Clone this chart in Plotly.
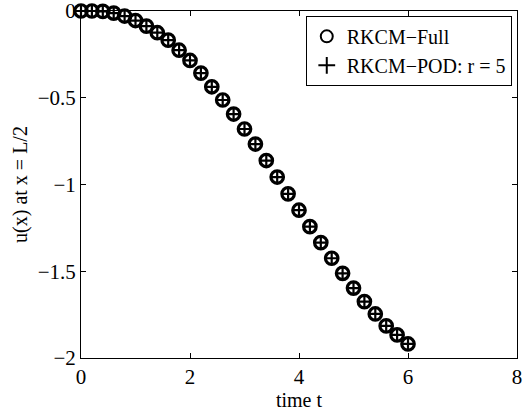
import plotly.graph_objects as go

time_t = [0.0, 0.2, 0.4, 0.6, 0.8, 1.0, 1.2, 1.4, 1.6, 1.8, 2.0, 2.2, 2.4, 2.6, 2.8, 3.0,
          3.2, 3.4, 3.6, 3.8, 4.0, 4.2, 4.4, 4.6, 4.8, 5.0, 5.2, 5.4, 5.6, 5.8, 6.0]
u_full = [0.0, 0.0, -0.002, -0.012, -0.029, -0.055, -0.087, -0.125, -0.168, -0.226, -0.285,
          -0.358, -0.437, -0.513, -0.594, -0.680, -0.767, -0.862, -0.957, -1.054, -1.148,
          -1.243, -1.335, -1.425, -1.512, -1.597, -1.675, -1.746, -1.815, -1.867, -1.919]
u_pod = [0.0, 0.0, -0.002, -0.012, -0.029, -0.055, -0.087, -0.125, -0.168, -0.226, -0.285,
         -0.358, -0.437, -0.513, -0.594, -0.680, -0.767, -0.862, -0.957, -1.054, -1.148,
         -1.243, -1.335, -1.425, -1.512, -1.597, -1.675, -1.746, -1.815, -1.867, -1.919]
x_ticks = [0, 2, 4, 6, 8]
y_ticks = [0, -0.5, -1, -1.5, -2]
y_ticklabels = ["0", "−0.5", "−1", "−1.5", "−2"]

FONT = "Liberation Serif, Times New Roman, serif"

fig = go.Figure()
fig.add_trace(go.Scatter(
    x=time_t, y=u_full, mode="markers", name="RKCM−Full",
    marker=dict(symbol="circle-open", size=12.5, color="black", line=dict(width=3.2, color="black")),
    cliponaxis=False,
))
fig.add_trace(go.Scatter(
    x=time_t, y=u_pod, mode="markers", name="RKCM−POD: r = 5",
    marker=dict(symbol="cross-thin-open", size=10, color="black", line=dict(width=2.2, color="black")),
    cliponaxis=False,
))

axis_common = dict(
    showgrid=False, zeroline=False, showline=True, linecolor="black", linewidth=1,
    mirror="ticks", ticks="inside", ticklen=5, tickwidth=1, tickcolor="black",
    tickfont=dict(family=FONT, size=21, color="black"), automargin=False,
    ticklabeloverflow="allow",
)

fig.update_layout(
    width=530, height=414,
    margin=dict(l=81, r=13, t=11, b=56),
    paper_bgcolor="white", plot_bgcolor="white",
    font=dict(family=FONT, size=20, color="black"),
    xaxis=dict(range=[0, 8], tickvals=x_ticks, ticktext=[str(v) for v in x_ticks],
               title=dict(text="time t", font=dict(family=FONT, size=20), standoff=0),
               **axis_common),
    yaxis=dict(range=[-2, 0], tickvals=y_ticks, ticktext=y_ticklabels,
               title=dict(text="u(x) at x = L/2", font=dict(family=FONT, size=20), standoff=4),
               **axis_common),
    legend=dict(x=0.988, y=0.986, xanchor="right", yanchor="top",
                bordercolor="black", borderwidth=1, bgcolor="white",
                font=dict(family=FONT, size=20), itemsizing="constant",
                tracegroupgap=0),
    showlegend=True,
)

fig.write_html("out.html")
